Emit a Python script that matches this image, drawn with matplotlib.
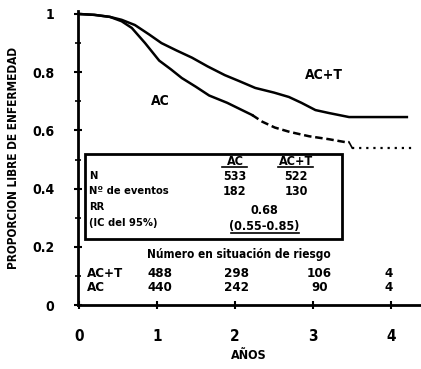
import matplotlib
matplotlib.use("Agg")
import matplotlib.pyplot as plt
from matplotlib.patches import Rectangle

plt.rcParams['font.family'] = ['DejaVu Sans']
plt.rcParams['font.stretch'] = 'condensed'
plt.rcParams['font.weight'] = 'bold'

# Data
t_act = [0, 0.2, 0.4, 0.55, 0.72, 0.9, 1.06, 1.25, 1.45, 1.65, 1.87, 2.05, 2.26, 2.5, 2.69, 2.85, 3.03, 3.2, 3.46, 4.2]
s_act = [1, 0.997, 0.99, 0.98, 0.962, 0.93, 0.90, 0.875, 0.85, 0.82, 0.79, 0.77, 0.746, 0.73, 0.715, 0.695, 0.67, 0.66, 0.646, 0.646]

t_ac_solid = [0, 0.2, 0.4, 0.55, 0.68, 0.85, 1.03, 1.18, 1.32, 1.5, 1.67, 1.9, 2.09, 2.22]
s_ac_solid = [1, 0.997, 0.99, 0.975, 0.952, 0.90, 0.84, 0.81, 0.78, 0.75, 0.72, 0.695, 0.67, 0.653]
t_ac_dash = [2.22, 2.35, 2.51, 2.7, 2.95, 3.2, 3.41, 3.46]
s_ac_dash = [0.653, 0.63, 0.61, 0.595, 0.58, 0.57, 0.56, 0.56]
t_ac_dot = [3.5, 4.3]
s_ac_dot = [0.54, 0.54]

box_rows = ["N", "Nº de eventos", "RR", "(IC del 95%)"]
n_vals = ["533", "522"]
event_vals = ["182", "130"]
rr_val = "0.68"
ci_val = "(0.55-0.85)"

risk_groups = ["AC+T", "AC"]
risk_x = [1.04, 2.02, 3.08, 3.97]
risk_act = ["488", "298", "106", "4"]
risk_ac = ["440", "242", "90", "4"]

fig = plt.figure(figsize=(4.21, 3.69), dpi=100)
ax = fig.add_axes([0.185, 0.173, 0.813, 0.797])

ax.plot(t_act, s_act, color='black', lw=1.8)
ax.plot(t_ac_solid, s_ac_solid, color='black', lw=1.8)
ax.plot(t_ac_dash, s_ac_dash, color='black', lw=1.8, ls=(0, (3, 1.5)))
ax.plot([3.46, 3.5], [0.56, 0.54], color='black', lw=1.2)
ax.plot(t_ac_dot, s_ac_dot, color='black', lw=1.6, ls=(0, (1, 2.2)))

ax.set_xlim(-0.01, 4.37)
ax.set_ylim(0, 1.01)
for s in ['top', 'right']:
    ax.spines[s].set_visible(False)
for s in ['left', 'bottom']:
    ax.spines[s].set_linewidth(2)

ax.set_xticks([0, 1, 2, 3, 4])
ax.set_xticklabels(['0', '1', '2', '3', '4'], fontsize=11, fontweight='bold')
ax.set_yticks([0, 0.2, 0.4, 0.6, 0.8, 1.0])
ax.set_yticklabels(['0', '0.2', '0.4', '0.6', '0.8', '1'], fontsize=10, fontweight='bold')
ax.set_yticks([0.1, 0.3, 0.5, 0.7, 0.9], minor=True)
ax.tick_params(axis='x', which='major', direction='inout', length=6, width=1.5, pad=14)
ax.tick_params(axis='y', which='major', direction='inout', length=6, width=1.5, pad=14)
ax.tick_params(axis='y', which='minor', direction='inout', length=4, width=1.2)

ax.set_xlabel('AÑOS', fontsize=9, fontweight='bold', labelpad=4)
ax.set_ylabel('PROPORCION LIBRE DE ENFERMEDAD', fontsize=8.5, fontweight='bold', labelpad=9)

ax.text(3.14, 0.79, 'AC+T', fontsize=10, fontweight='bold', ha='center', va='center')
ax.text(1.04, 0.70, 'AC', fontsize=10, fontweight='bold', ha='center', va='center')

# Box
ax.add_patch(Rectangle((0.08, 0.227), 3.29, 0.293, fill=False, lw=2, ec='black'))
ax.text(2.0, 0.495, 'AC', fontsize=9, fontweight='bold', ha='center', va='center')
ax.text(2.78, 0.495, 'AC+T', fontsize=9, fontweight='bold', ha='center', va='center')
ax.plot([1.84, 2.16], [0.475, 0.475], color='black', lw=1.2)
ax.plot([2.55, 3.0], [0.475, 0.475], color='black', lw=1.2)
row_y = [0.443, 0.392, 0.337, 0.282]
for lab, y in zip(box_rows, row_y):
    ax.text(0.13, y, lab, fontsize=8, fontweight='bold', ha='left', va='center')
ax.text(2.0, row_y[0], n_vals[0], fontsize=9, fontweight='bold', ha='center', va='center')
ax.text(2.78, row_y[0], n_vals[1], fontsize=9, fontweight='bold', ha='center', va='center')
ax.text(2.0, row_y[1], event_vals[0], fontsize=9, fontweight='bold', ha='center', va='center')
ax.text(2.78, row_y[1], event_vals[1], fontsize=9, fontweight='bold', ha='center', va='center')
ax.text(2.38, 0.326, rr_val, fontsize=9, fontweight='bold', ha='center', va='center')
ax.text(2.38, 0.27, ci_val, fontsize=9, fontweight='bold', ha='center', va='center')
ax.plot([1.95, 2.82], [0.248, 0.248], color='black', lw=1.2)

# Number at risk
ax.text(2.05, 0.175, 'Número en situación de riesgo', fontsize=8.5, fontweight='semibold', ha='center', va='center')
risk_y = [0.11, 0.062]
for g, y, vals in zip(risk_groups, risk_y, [risk_act, risk_ac]):
    ax.text(0.1, y, g, fontsize=9.5, fontweight='bold', ha='left', va='center')
    for x, v in zip(risk_x, vals):
        ax.text(x, y, v, fontsize=9.5, fontweight='bold', ha='center', va='center')

fig.savefig('out.png', dpi=100)
